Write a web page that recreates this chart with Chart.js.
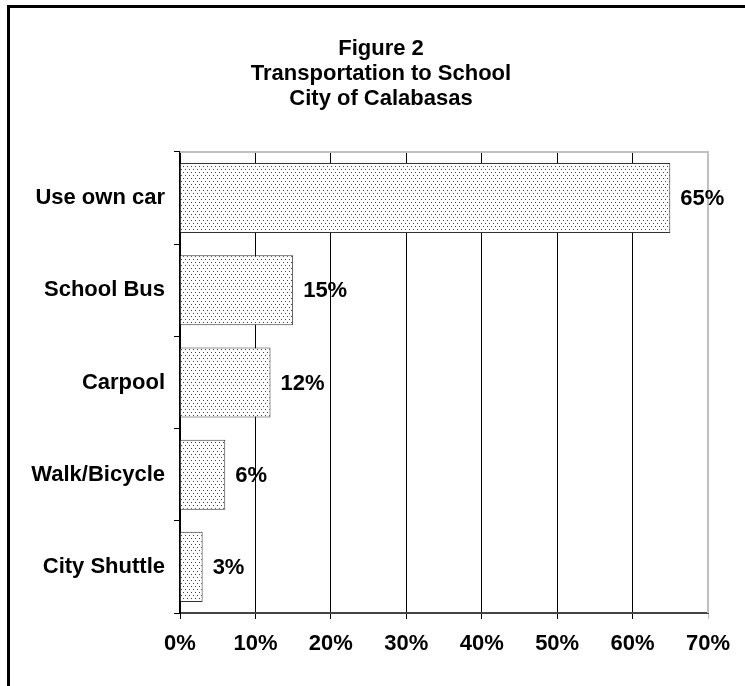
<!DOCTYPE html>
<html>
<head>
<meta charset="utf-8">
<script src="https://cdn.jsdelivr.net/npm/chart.js@4.4.0/dist/chart.umd.min.js"></script>
<style>
  html, body { margin: 0; padding: 0; background: #fff; overflow: hidden; }
  #frame { position: absolute; left: 7px; top: 5px; width: 800px; height: 800px; border: 3px solid #000; }
  #wrap { position: absolute; left: 0; top: 0; width: 745px; height: 686px; }
</style>
</head>
<body>
<div id="frame"></div>
<div id="wrap"><canvas id="chart" width="745" height="686"></canvas></div>
<script>
// data
const categories = ['Use own car', 'School Bus', 'Carpool', 'Walk/Bicycle', 'City Shuttle'];
const shares = [65, 15, 12, 6, 3];
const titleLines = ['Figure 2', 'Transportation to School', 'City of Calabasas'];
const xMax = 70;
const xStep = 10;

document.addEventListener('DOMContentLoaded', () => {

    // dotted fill like the original print
    const tile = document.createElement('canvas');
    tile.width = 4;
    tile.height = 6;
    const tctx = tile.getContext('2d');
    tctx.fillStyle = '#fff';
    tctx.fillRect(0, 0, 4, 6);
    tctx.fillStyle = '#444';
    tctx.fillRect(1, 1, 1, 1);
    tctx.fillRect(3, 4, 1, 1);
    const dots = tctx.createPattern(tile, 'repeat');

    const font = 'Liberation Sans, Arial, sans-serif';

    // gray frame on top and right of plot area
    const plotFrame = {
        id: 'plotFrame',
        beforeDatasetsDraw(chart) {
            const { ctx, chartArea: a } = chart;
            ctx.save();
            ctx.strokeStyle = '#c0c0c0';
            ctx.lineWidth = 2;
            ctx.beginPath();
            ctx.moveTo(a.left, a.top);
            ctx.lineTo(a.right, a.top);
            ctx.lineTo(a.right, a.bottom);
            ctx.stroke();
            ctx.restore();
        }
    };

    // percentage labels at the end of each bar
    const valueLabels = {
        id: 'valueLabels',
        afterDatasetsDraw(chart) {
            const { ctx } = chart;
            const meta = chart.getDatasetMeta(0);
            ctx.save();
            ctx.font = 'bold 22px ' + font;
            ctx.fillStyle = '#000';
            ctx.textAlign = 'left';
            ctx.textBaseline = 'middle';
            meta.data.forEach((bar, i) => {
                ctx.fillText(shares[i] + '%', bar.x + 10, bar.y + 1);
            });
            ctx.restore();
        }
    };

    new Chart(document.getElementById('chart').getContext('2d'), {
        type: 'bar',
        data: {
            labels: categories,
            datasets: [{
                data: shares,
                backgroundColor: dots,
                borderColor: '#333',
                borderWidth: 1,
                barPercentage: 0.76,
                categoryPercentage: 1
            }]
        },
        options: {
            indexAxis: 'y',
            responsive: false,
            animation: false,
            layout: { padding: { left: 17, right: 0, top: 0, bottom: 0 } },
            plugins: {
                legend: { display: false },
                tooltip: { enabled: false },
                title: {
                    display: true,
                    text: titleLines,
                    color: '#000',
                    font: { family: font, size: 22, weight: 'bold', lineHeight: 1.12 },
                    padding: { top: 37, bottom: 41 }
                }
            },
            scales: {
                x: {
                    min: 0,
                    max: xMax,
                    ticks: {
                        stepSize: xStep,
                        color: '#000',
                        padding: 12,
                        font: { family: font, size: 22, weight: 'bold' },
                        callback: v => v + '%'
                    },
                    grid: {
                        color: c => c.index === xMax / xStep ? '#c0c0c0' : '#000',
                        lineWidth: 1,
                        tickLength: 6
                    },
                    border: { color: '#444', width: 2 },
                    afterFit: s => { s.height = 73; s.paddingRight = 37; }
                },
                y: {
                    ticks: {
                        color: '#000',
                        padding: 9,
                        font: { family: font, size: 22, weight: 'bold' }
                    },
                    grid: {
                        drawOnChartArea: false,
                        color: '#000',
                        tickLength: 6
                    },
                    border: { color: '#000', width: 2 },
                    afterFit: s => { s.width = 163; }
                }
            }
        },
        plugins: [plotFrame, valueLabels]
    });
});
</script>
</body>
</html>
